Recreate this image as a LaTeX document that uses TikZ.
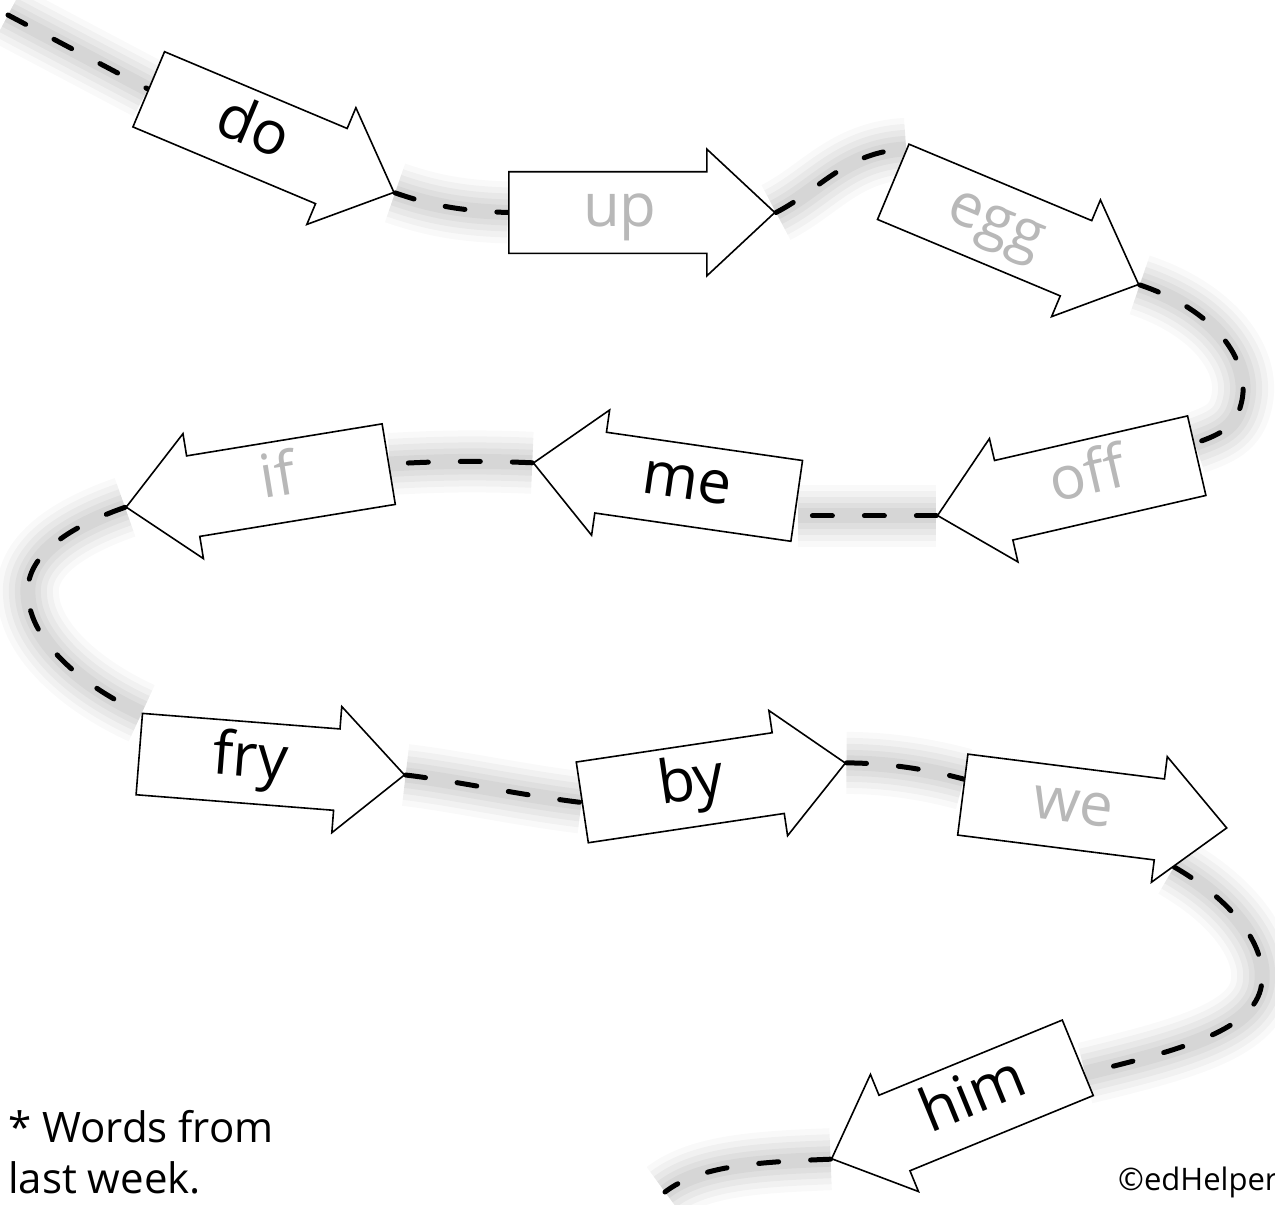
\documentclass[tikz,border=0pt]{standalone}
\usepackage{fontspec}
\setmainfont{Open Sans}
\usetikzlibrary{shapes.arrows, backgrounds, calc}

\definecolor{oldword}{gray}{0.72}

\tikzset{
	word/.style = {shape = single arrow, draw = black, fill = white, line width = 1.6pt,
		minimum height = 266pt, single arrow head extend = 22.5pt, single arrow tip angle = 86,
		inner ysep = 5pt, text height = 49pt, text depth = 21pt, anchor = tail,
		font = \fontsize{60}{60}\selectfont},
	back/.style = {word, shape border rotate = 180},
	old/.style = {text = oldword},
	trail/.style = {line width = 5pt, dash pattern = on 20pt off 32pt, line cap = round,
		preaction = {draw, solid, black, opacity = 0.025, line width = 62pt},
		preaction = {draw, solid, black, opacity = 0.03, line width = 50pt},
		preaction = {draw, solid, black, opacity = 0.035, line width = 38pt},
		preaction = {draw, solid, black, opacity = 0.04, line width = 26pt},
		preaction = {draw, solid, black, opacity = 0.04, line width = 15pt}},
	note/.style = {inner sep = 0pt, align = left, font = \fontsize{42}{51}\selectfont},
}

\begin{document}
\begin{tikzpicture}[x = 1pt, y = -1pt]
	\useasboundingbox (0,0) rectangle (1275,1205);
	% fila de dalt
	\node[word, rotate = -22.8] (do) at (148,89) {do};
	\node[word, old] (up) at (508,212.5) {up};
	\node[word, old, rotate = -22.7] (egg) at (892.5,181.5) {egg};
	% segona fila
	\node[back, old, rotate = 13] (off) at (1197.5,455.5) {off};
	\node[back, rotate = -8.2] (me) at (797.5,501) {me};
	\node[back, old, rotate = 9.3] (if) at (389.5,464) {if};
	% tercera fila
	\node[word, rotate = -4.5] (fry) at (138.5,754) {fry};
	\node[word, rotate = 8.5] (by) at (581.5,802.5) {by};
	\node[word, old, rotate = -7.2] (we) at (962,794.5) {we};
	% baix
	\node[back, rotate = 22.3] (him) at (1078.5,1057.5) {him};
	\coordinate (start) at (8,15);
	\coordinate (finish) at (665,1192);
	% cami
	\begin{pgfonlayer}{background}
		\draw[trail] (start) -- (do.tail);
		\draw[trail] (do.tip) .. controls (430,205) and (460,211) .. (up.tail);
		\draw[trail] (up.tip) .. controls (820,190) and (845,152) .. ($(egg.tail)!0.85!(egg.after tail)$);
		\draw[trail] (egg.tip) .. controls (1215,310) and (1250,360) .. (1242,400)
			.. controls (1237,425) and (1225,433) .. ($(off.tail)!0.3!(off.before tail)$);
		\draw[trail] (off.tip) -- (off.tip -| me.tail);
		\draw[trail] (me.tip) .. controls (470,460) and (425,462) .. (if.tail);
		\draw[trail] (if.tip) .. controls (60,530) and (25,560) .. (28,595)
			.. controls (30,640) and (80,685) .. (fry);
		\draw[trail] (fry.tip) .. controls (450,780) and (520,795) .. (by.tail);
		\draw[trail] (by.tip) .. controls (890,763) and (930,770) .. (we);
		\draw[trail] (we) .. controls (1240,905) and (1265,950) .. (1262,980)
			.. controls (1260,1030) and (1180,1050) .. (him);
		\draw[trail] (him.tip) .. controls (760,1162) and (700,1165) .. (finish);
	\end{pgfonlayer}
	% textos
	\node[note, anchor = north west] (memo) at (8,1110) {* Words from\\last week.};
	\node[inner sep = 0pt, anchor = base west, font = \fontsize{31}{31}\selectfont] (copy) at (1118,1190) {©edHelper};
\end{tikzpicture}
\end{document}
